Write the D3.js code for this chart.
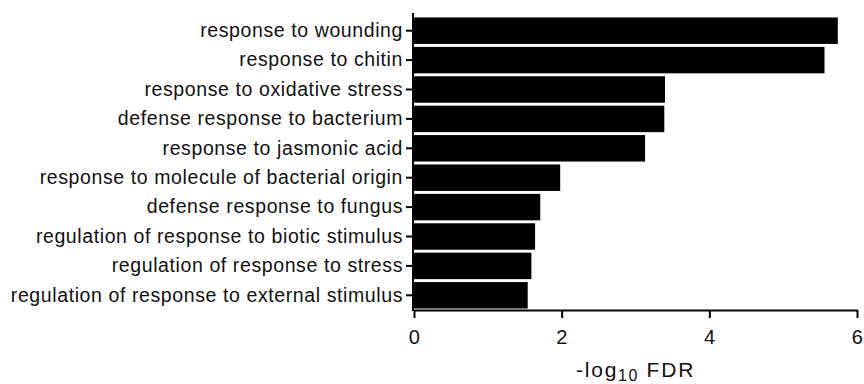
<!DOCTYPE html>
<html>
<head>
<meta charset="utf-8">
<script src="https://cdn.jsdelivr.net/npm/d3@7"></script>
<style>
  html, body { margin: 0; padding: 0; background: #fff; }
  svg { display: block; }
  .lbl { font-family: "Liberation Sans", Arial, sans-serif; fill: #111; }
</style>
</head>
<body>
<svg id="chart" width="864" height="384"></svg>
<script>
// GO terms (top to bottom) and their enrichment scores (-log10 FDR)
const terms = [
  "response to wounding",
  "response to chitin",
  "response to oxidative stress",
  "defense response to bacterium",
  "response to jasmonic acid",
  "response to molecule of bacterial origin",
  "defense response to fungus",
  "regulation of response to biotic stimulus",
  "regulation of response to stress",
  "regulation of response to external stimulus"
];
const scores = [5.74, 5.56, 3.40, 3.39, 3.13, 1.98, 1.71, 1.64, 1.59, 1.54];
const xTicks = [0, 2, 4, 6];

const svg = d3.select("#chart");
const x0 = 414, x1 = 857, yTop = 13, yBottom = 310;

const x = d3.scaleLinear().domain([0, 6]).range([x0, x1]);
const y = d3.scaleBand().domain(terms).range([16, yBottom]).paddingInner(0.1).paddingOuter(0.05);

// bars
svg.append("g").selectAll("rect")
  .data(terms)
  .join("rect")
  .attr("x", x(0))
  .attr("y", d => y(d))
  .attr("width", (d, i) => x(scores[i]) - x(0))
  .attr("height", y.bandwidth())
  .attr("fill", "#000");

// x axis
const xAxis = svg.append("g")
  .attr("transform", `translate(0,${yBottom})`)
  .call(d3.axisBottom(x).tickValues(xTicks).tickFormat(d3.format("d")).tickSize(8).tickPadding(12).tickSizeOuter(0));
xAxis.select(".domain").attr("stroke", "#000").attr("stroke-width", 2);
xAxis.selectAll(".tick line").attr("stroke", "#000").attr("stroke-width", 2);
xAxis.selectAll(".tick text")
  .attr("class", "lbl")
  .style("font-size", "20px")
  .style("letter-spacing", "0.5px")
  .attr("fill", "#111");

// y axis
const yAxis = svg.append("g")
  .attr("transform", `translate(${x0 - 1},0)`)
  .call(d3.axisLeft(y).tickSize(7).tickPadding(3).tickSizeOuter(0));
yAxis.select(".domain").remove();
yAxis.append("line")
  .attr("x1", 0).attr("x2", 0)
  .attr("y1", yTop).attr("y2", yBottom + 1)
  .attr("stroke", "#000").attr("stroke-width", 2);
yAxis.selectAll(".tick line").attr("stroke", "#000").attr("stroke-width", 2);
yAxis.selectAll(".tick text")
  .attr("class", "lbl")
  .style("font-size", "19.5px")
  .style("letter-spacing", "0.6px")
  .attr("fill", "#111");

// axis title
const title = svg.append("text")
  .attr("class", "lbl")
  .attr("x", (x0 + x1) / 2)
  .attr("y", 376.5)
  .attr("text-anchor", "middle")
  .style("font-size", "21px")
  .style("letter-spacing", "1.8px");
title.append("tspan").text("-log");
title.append("tspan").attr("dy", 4.5).style("font-size", "16px").style("letter-spacing", "1.5px").text("10");
title.append("tspan").attr("dy", -4.5).text(" FDR");
</script>
</body>
</html>
